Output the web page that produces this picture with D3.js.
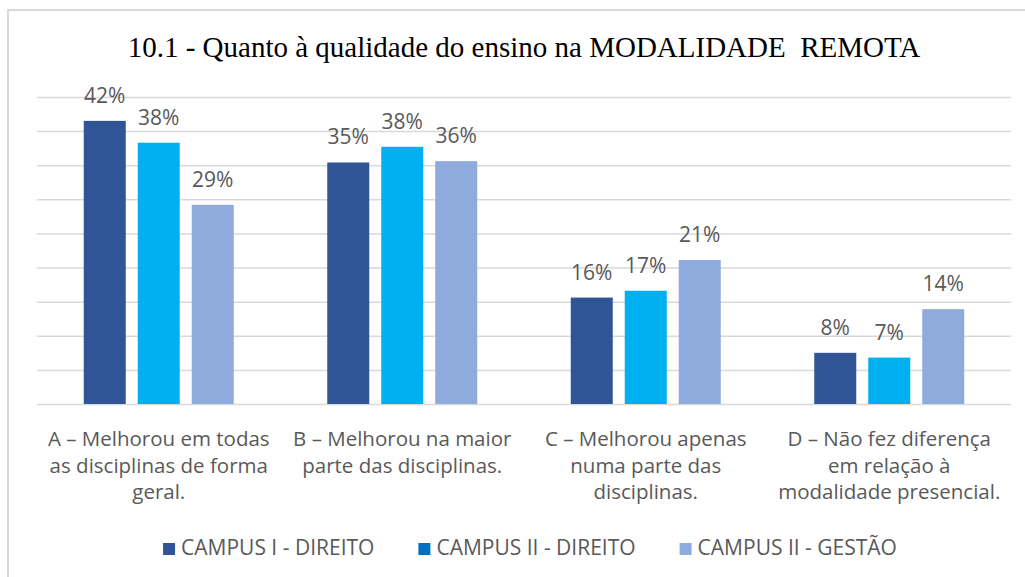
<!DOCTYPE html>
<html>
<head>
<meta charset="utf-8">
<title>10.1 - Qualidade do ensino</title>
<script src="https://cdn.jsdelivr.net/npm/d3@7"></script>
<style>
body { margin: 0; background: #fff; }
svg text { font-family: "Open Sans", sans-serif; fill: #595959; }
</style>
</head>
<body>
<script>

// data
var categories = ["A", "B", "C", "D"];
var categoryLines = [
    ["A \u2013 Melhorou em todas", "as disciplinas de forma", "geral."],
    ["B \u2013 Melhorou na maior", "parte das disciplinas."],
    ["C \u2013 Melhorou apenas", "numa parte das", "disciplinas."],
    ["D \u2013 N\u00e3o fez diferen\u00e7a", "em rela\u00e7\u00e3o \u00e0", "modalidade presencial."]
];
var seriesNames = ["CAMPUS I - DIREITO", "CAMPUS II - DIREITO", "CAMPUS II - GEST\u00c3O"];
var campus1Direito = [41.5, 35.4, 15.6, 7.5];
var campus2Direito = [38.3, 37.7, 16.6, 6.8];
var campus2Gestao  = [29.2, 35.6, 21.1, 13.9];
var yTicks = [0, 5, 10, 15, 20, 25, 30, 35, 40, 45];

var barColors = ["#2f5597", "#00b0f0", "#8faadc"];
var legendColors = ["#2f5597", "#0070c0", "#8faadc"];

var w = 1025;
var h = 577;
var values = [campus1Direito, campus2Direito, campus2Gestao];

var svg = d3.select("body").append("svg")
    .attr("width", w)
    .attr("height", h);

// chart border (only left and top show in the picture)
svg.append("rect")
    .attr("x", 8).attr("y", 10)
    .attr("width", 1040).attr("height", 600)
    .attr("fill", "none")
    .attr("stroke", "#d9d9d9")
    .attr("stroke-width", 2);

var x0 = d3.scaleBand()
    .domain(categories)
    .range([37, 1011]);

var groupW = 150;
var x1 = d3.scaleBand()
    .domain(d3.range(seriesNames.length))
    .range([(x0.bandwidth() - groupW) / 2, (x0.bandwidth() + groupW) / 2])
    .paddingInner(0.222);

var y = d3.scaleLinear()
    .domain([0, 45])
    .range([404, 97]);

// title
svg.append("text")
    .attr("x", 524)
    .attr("y", 57)
    .attr("text-anchor", "middle")
    .attr("xml:space", "preserve")
    .style("font-family", "'Liberation Serif', 'Times New Roman', serif")
    .style("font-size", "29px")
    .style("fill", "#000")
    .text("10.1 - Quanto \u00e0 qualidade do ensino na MODALIDADE  REMOTA");

// gridlines
var grid = svg.append("g")
    .attr("transform", "translate(37,0)")
    .call(d3.axisLeft(y).tickValues(yTicks).tickSize(-974).tickFormat(""));
grid.select(".domain").remove();
grid.selectAll("line")
    .attr("stroke", "#d9d9d9")
    .attr("stroke-width", 1.5);

// bars
var groups = svg.selectAll("g.cat")
    .data(categories)
    .enter()
    .append("g")
    .attr("class", "cat")
    .attr("transform", function(d) { return "translate(" + x0(d) + ",0)"; });

groups.selectAll("rect")
    .data(function(d, i) {
        return values.map(function(s, j) { return {s: j, v: s[i]}; });
    })
    .enter()
    .append("rect")
    .attr("x", function(d) { return x1(d.s); })
    .attr("y", function(d) { return y(d.v); })
    .attr("width", x1.bandwidth())
    .attr("height", function(d) { return y(0) - y(d.v); })
    .attr("fill", function(d) { return barColors[d.s]; });

groups.selectAll("text.val")
    .data(function(d, i) {
        return values.map(function(s, j) { return {s: j, v: s[i]}; });
    })
    .enter()
    .append("text")
    .attr("class", "val")
    .attr("x", function(d) { return x1(d.s) + x1.bandwidth() / 2; })
    .attr("y", function(d) { return y(d.v) - 18; })
    .attr("text-anchor", "middle")
    .style("font-size", "21px")
    .text(function(d) { return Math.round(d.v) + "%"; });

// category labels
var catLabels = svg.selectAll("text.cat")
    .data(categories)
    .enter()
    .append("text")
    .attr("class", "cat")
    .attr("text-anchor", "middle")
    .style("font-size", "20.5px");

catLabels.each(function(d, i) {
    var t = d3.select(this);
    categoryLines[i].forEach(function(line, k) {
        t.append("tspan")
            .attr("x", x0(d) + x0.bandwidth() / 2)
            .attr("y", 446 + k * 26.7)
            .text(line);
    });
});

// legend
var legend = svg.append("g");
var items = legend.selectAll("g")
    .data(seriesNames)
    .enter()
    .append("g");
items.append("rect")
    .attr("y", 543)
    .attr("width", 12)
    .attr("height", 12)
    .attr("fill", function(d, i) { return legendColors[i]; });
items.append("text")
    .attr("x", 18)
    .attr("y", 555)
    .style("font-size", "21px")
    .text(function(d) { return d; });

var pos = 0;
var offsets = [];
items.each(function() {
    offsets.push(pos);
    pos += 18 + d3.select(this).select("text").node().getComputedTextLength() + 44;
});
var total = pos - 44;
var start = 530 - total / 2;
items.attr("transform", function(d, i) { return "translate(" + (start + offsets[i]) + ",0)"; });

</script>
</body>
</html>
